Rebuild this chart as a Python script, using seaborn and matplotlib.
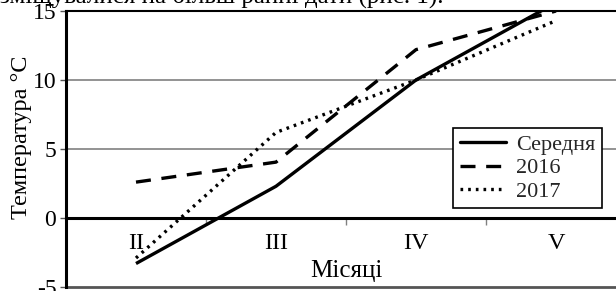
import matplotlib
matplotlib.use("Agg")
import matplotlib.pyplot as plt
import seaborn as sns
import pandas as pd
from matplotlib.lines import Line2D

months = ["II", "III", "IV", "V"]
series_names = ["Середня", "2016", "2017"]
mean_vals = [-3.3, 2.3, 10.0, 15.6]
y2016_vals = [2.6, 4.05, 12.2, 15.0]
y2017_vals = [-2.9, 6.2, 10.0, 14.3]
yticks = [-5, 0, 5, 10, 15]

rows = []
for name, vals in zip(series_names, [mean_vals, y2016_vals, y2017_vals]):
    for m, v in zip(months, vals):
        rows.append({"Місяць": m, "t": v, "Ряд": name})
df = pd.DataFrame(rows)

sns.set_theme(style="white")
plt.rcParams["font.family"] = ["Liberation Serif", "DejaVu Serif"]

fig = plt.figure(figsize=(6.16, 2.91), dpi=100)
W, H = 616, 291
ax = fig.add_axes([66 / W, 4 / H, 560 / W, 276 / H])

lw = 2.4
dashes = {"Середня": "", "2016": (4.5, 3.2), "2017": (0.8, 1.5)}
sns.lineplot(data=df, x="Місяць", y="t", style="Ряд", style_order=series_names,
             dashes=dashes, color="black", linewidth=lw, ax=ax, legend=False,
             sort=False)
for ln in ax.get_lines():
    ln.set_dash_capstyle("butt")
    ln.set_solid_capstyle("butt")
    ln.set_zorder(3)

ax.set_xlim(-0.5, 3.5)
ax.set_ylim(-5, 15)

# grid lines
for yv in [5, 10]:
    ax.axhline(yv, color="#808080", lw=1.2, zorder=1)
ax.axhline(-5, color="#555555", lw=2.0, zorder=1, clip_on=False)

# spines
ax.spines["bottom"].set_position(("data", 0))
ax.spines["bottom"].set_linewidth(2.2)
ax.spines["bottom"].set_color("black")
ax.spines["left"].set_linewidth(2.2)
ax.spines["left"].set_color("black")
ax.spines["top"].set_linewidth(1.5)
ax.spines["top"].set_color("black")
ax.spines["right"].set_visible(False)

ax.set_yticks(yticks)
ax.set_yticklabels([str(v) for v in yticks])
ax.tick_params(axis="y", which="major", left=True, direction="out", length=4,
               width=1, color="#555555", labelsize=17, pad=3, labelcolor="black")

ax.set_xticks(range(len(months)))
ax.set_xticklabels(months)
ax.set_xticks([0.5, 1.5, 2.5], minor=True)
ax.tick_params(axis="x", which="major", bottom=False, length=0, labelsize=17.5,
               pad=11, labelcolor="black")
ax.tick_params(axis="x", which="minor", bottom=True, direction="out", length=5,
               width=1, color="#808080")
ax.set_xlabel("")
ax.set_ylabel("")

ax.text(0.5, -3.84, "Місяці", transform=ax.get_yaxis_transform(), ha="center",
        va="center", fontsize=18, color="black")
fig.text(22 / W, 1 - 137 / H, "Температура °C", rotation=90, ha="center",
         va="center", fontsize=17.5, color="black")

# clipped text line from the page above
fig.text(0.0, 1 - 3 / H, "зміщувалися на більш ранні дати (рис. 1).",
         ha="left", va="baseline", fontsize=18, color="black")

handles = [Line2D([], [], color="black", lw=lw, linestyle="-"),
           Line2D([], [], color="black", lw=lw, dashes=dashes["2016"], dash_capstyle="butt"),
           Line2D([], [], color="black", lw=lw, dashes=dashes["2017"], dash_capstyle="butt")]
leg = ax.legend(handles, series_names, loc="upper left",
                bbox_to_anchor=((453 - 66) / 560, 1 - (128 - 11) / 276),
                frameon=True, fancybox=False, fontsize=16, handlelength=2.1,
                handletextpad=0.45, borderpad=0.3, labelspacing=0.12,
                borderaxespad=0)
leg.get_frame().set_edgecolor("black")
leg.get_frame().set_linewidth(1.2)
leg.get_frame().set_facecolor("white")
leg.get_frame().set_alpha(1)
leg.set_zorder(5)

fig.savefig("out.png", dpi=100)
